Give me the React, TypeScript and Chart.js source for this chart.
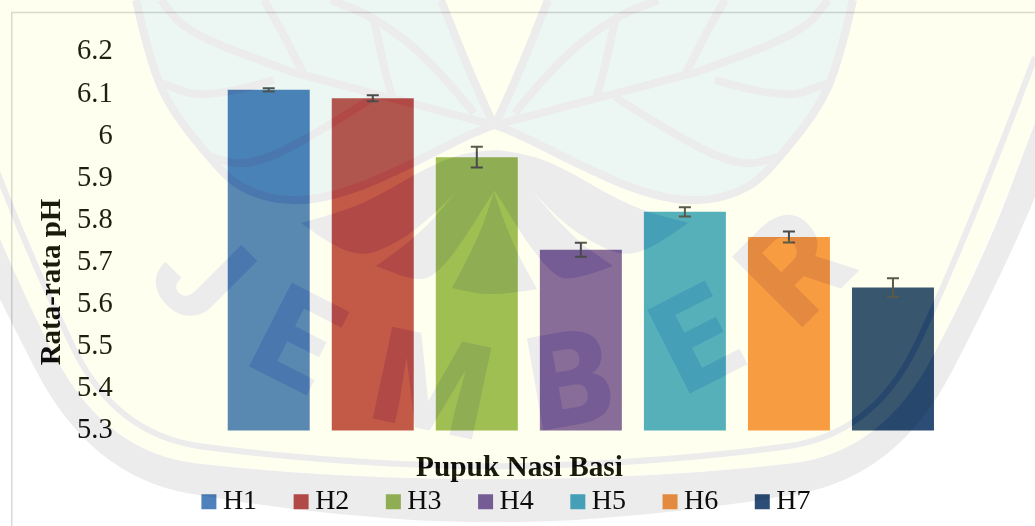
import React, { useEffect, useRef } from "react";
import { Chart, registerables } from "chart.js";

Chart.register(...registerables);

const seriesNames = ["H1", "H2", "H3", "H4", "H5", "H6", "H7"];
const seriesValues = [6.11, 6.09, 5.95, 5.73, 5.82, 5.76, 5.64];
const seriesErrors = [0.004, 0.007, 0.0245, 0.0167, 0.011, 0.013, 0.022];
const seriesColors = ["#4F81BD", "#C0504D", "#9BBB59", "#8064A2", "#4BACC6", "#F79646", "#2C4D75"];
const xCaption = "Pupuk Nasi Basi";
const yCaption = "Rata-rata pH";
const SERIF = '"Liberation Serif", "Times New Roman", serif';

type P = [number, number];
const MIRROR = 989;
const mirror = (pts: P[]): P[] => pts.map(([x, y]) => [MIRROR - x, y] as P);

function trace(ctx: CanvasRenderingContext2D, pts: P[], move = true) {
  if (move) ctx.moveTo(pts[0][0], pts[0][1]);
  else ctx.lineTo(pts[0][0], pts[0][1]);
  for (let i = 1; i < pts.length - 1; i++) {
    const mx = (pts[i][0] + pts[i + 1][0]) / 2;
    const my = (pts[i][1] + pts[i + 1][1]) / 2;
    ctx.quadraticCurveTo(pts[i][0], pts[i][1], mx, my);
  }
  const last = pts[pts.length - 1];
  ctx.lineTo(last[0], last[1]);
}

const lowerSegments: P[][] = [
  [[494, 150], [527, 153], [567, 170], [600, 190], [640, 210], [688, 223]],
  [[688, 223], [660, 243], [633, 255], [610, 252], [567, 227], [532, 191]],
  [[532, 191], [571, 237], [613, 266]],
  [[613, 266], [571, 282], [551, 273], [525, 240], [502, 202]],
  [[502, 202], [494, 190]],
];
const centerSegments: P[][] = [
  [[494, 192], [510, 240], [537, 289]],
  [[537, 289], [494, 297], [452, 288]],
  [[452, 288], [478, 240], [494, 192]],
];
const leafEdge: P[] = [[495, 125], [515, 132], [575, 163], [642, 193], [698, 203], [748, 190], [778, 160], [825, 100], [843, 43], [853, 0]];
const veins: P[][] = [
  [[495, 125], [603, 97], [685, 75], [695, 73], [802, 33], [828, 0]],
  [[515, 113], [558, 60], [615, 17], [658, 0]],
  [[597, 97], [605, 67], [615, 20]],
  [[685, 75], [705, 35], [725, 0]],
  [[615, 97], [682, 140], [742, 167], [778, 157]],
  [[715, 80], [782, 100], [828, 83]],
  [[495, 125], [515, 83], [548, 0]],
];
const shieldOuter: P[] = [[1035, 197], [1008, 263], [898, 476], [700, 511], [494, 526], [288, 511], [90, 476], [-19, 263], [-46, 197]];
const shieldInner: P[] = [[1035, 123], [982, 263], [882, 453], [700, 474], [494, 481], [288, 474], [106, 453], [6, 263], [-46, 123]];
const shieldThin: P[] = [[1035, 57], [957, 263], [872, 435], [700, 458], [494, 469], [288, 458], [116, 435], [32, 263], [-47, 57]];
const letters: [string, number, number, number, number][] = [
  ["J", 203, 273, 45, 132],
  ["E", 297, 338, 27, 132],
  ["M", 432, 383, 12, 132],
  ["B", 570, 378, -10, 132],
  ["E", 695, 338, -27, 132],
  ["R", 796, 267, -45, 140],
];

function buildWatermark(w: number, h: number) {
  const mask = document.createElement("canvas");
  mask.width = w;
  mask.height = h;
  const m = mask.getContext("2d")!;
  m.fillStyle = "#000";
  m.strokeStyle = "#000";
  m.lineJoin = "round";
  m.beginPath();
  trace(m, shieldOuter);
  trace(m, [...shieldInner].reverse(), false);
  m.closePath();
  m.fill();
  m.lineWidth = 6;
  m.beginPath();
  trace(m, shieldThin);
  m.stroke();
  m.beginPath();
  lowerSegments.forEach((s, i) => trace(m, s, i === 0));
  [...lowerSegments].reverse().forEach((s) => trace(m, mirror([...s].reverse()), false));
  m.closePath();
  m.fill();
  m.beginPath();
  centerSegments.forEach((s, i) => trace(m, s, i === 0));
  m.closePath();
  m.fill();
  m.lineWidth = 8;
  [leafEdge, ...veins].forEach((v) => {
    [v, mirror(v)].forEach((line) => {
      m.beginPath();
      trace(m, line);
      m.stroke();
    });
  });
  m.textAlign = "center";
  m.textBaseline = "alphabetic";
  letters.forEach(([t, x, y, deg, size]) => {
    m.font = `900 ${size}px Roboto, sans-serif`;
    m.save();
    m.translate(x, y);
    m.rotate((deg * Math.PI) / 180);
    m.fillText(t, 0, 47);
    m.restore();
  });

  const over = document.createElement("canvas");
  over.width = w;
  over.height = h;
  const o = over.getContext("2d")!;
  o.fillStyle = "rgba(255,255,0,0.06)";
  o.beginPath();
  o.moveTo(-46, 0);
  o.lineTo(1035, 0);
  trace(o, shieldInner, false);
  o.closePath();
  o.fill();
  const leafPath = (line: P[]) => {
    o.beginPath();
    trace(o, line);
    o.lineTo(line[line.length - 1][0] > 494 ? 548 : MIRROR - 548, 0);
    o.lineTo(line[0][0], line[0][1]);
    o.closePath();
  };
  o.globalCompositeOperation = "destination-out";
  [leafEdge, mirror(leafEdge)].forEach((line) => {
    o.fillStyle = "#000";
    leafPath(line);
    o.fill();
  });
  o.globalCompositeOperation = "source-over";
  [leafEdge, mirror(leafEdge)].forEach((line) => {
    o.fillStyle = "rgba(0,150,110,0.075)";
    leafPath(line);
    o.fill();
  });
  o.globalCompositeOperation = "destination-out";
  o.drawImage(mask, 0, 0);
  o.globalCompositeOperation = "source-over";
  o.globalAlpha = 0.075;
  o.drawImage(mask, 0, 0);
  o.globalAlpha = 1;
  return over;
}

export default function App() {
  const ref = useRef<HTMLCanvasElement>(null);
  useEffect(() => {
    const canvas = ref.current!;
    const watermark = buildWatermark(1035, 526);

    const pagePlugin = {
      id: "page",
      beforeDraw(chart: any) {
        const { ctx, width, height } = chart;
        ctx.save();
        ctx.fillStyle = "#ffffff";
        ctx.fillRect(0, 0, width, height);
        ctx.strokeStyle = "#d9d9d9";
        ctx.lineWidth = 1.5;
        ctx.beginPath();
        ctx.moveTo(11.75, height + 2);
        ctx.lineTo(11.75, 12.5);
        ctx.lineTo(width + 2, 12.5);
        ctx.stroke();
        ctx.restore();
      },
      afterDraw(chart: any) {
        chart.ctx.drawImage(watermark, 0, 0);
      },
    };

    const placePlugin = {
      id: "place",
      afterLayout(chart: any) {
        const legend = chart.legend;
        legend.left = 70.7;
        legend.right = 948.7;
        legend.top = 443.7;
        legend.bottom = 526;
        const title = chart.titleBlock;
        title.left = 400;
        title.right = 639;
        title.top = 450.6;
        title.bottom = 490;
        const block = chart.boxes.find((b: any) => b !== title && b.options && b.options.text === yCaption);
        if (block) {
          block.left = 38;
          block.right = 67;
          block.top = 198;
          block.bottom = 366;
        }
      },
    };

    const errorBarPlugin = {
      id: "errorBars",
      afterDatasetsDraw(chart: any) {
        const { ctx } = chart;
        const y = chart.scales.y;
        ctx.save();
        ctx.strokeStyle = "#505050";
        ctx.lineWidth = 2;
        seriesErrors.forEach((err, i) => {
          const bar = chart.getDatasetMeta(i).data[0];
          const hi = y.getPixelForValue(seriesValues[i] + err);
          const lo = y.getPixelForValue(seriesValues[i] - err);
          ctx.beginPath();
          ctx.moveTo(bar.x, hi);
          ctx.lineTo(bar.x, lo);
          ctx.moveTo(bar.x - 6, hi);
          ctx.lineTo(bar.x + 6, hi);
          ctx.moveTo(bar.x - 6, lo);
          ctx.lineTo(bar.x + 6, lo);
          ctx.stroke();
        });
        ctx.restore();
      },
    };

    const chart = new Chart(canvas, {
      type: "bar",
      data: {
        labels: [""],
        datasets: seriesNames.map((name, i) => ({
          label: name,
          data: [seriesValues[i]],
          backgroundColor: seriesColors[i],
          borderWidth: 0,
          pointStyle: "rect",
          categoryPercentage: 1,
          barPercentage: 0.788,
        })),
      },
      options: {
        animation: false,
        responsive: false,
        devicePixelRatio: 1,
        layout: { padding: { left: 0, right: 90, top: 52, bottom: -29.75 } },
        scales: {
          x: {
            grid: { display: false },
            border: { display: false },
            ticks: { display: false },
          },
          y: {
            min: 5.3,
            max: 6.2,
            grid: { drawOnChartArea: false, drawTicks: true, tickLength: 104, tickColor: "rgba(0,0,0,0)" },
            border: { display: false },
            afterFit(scale: any) {
              scale.width = 187.7;
            },
            ticks: {
              stepSize: 0.1,
              padding: 0,
              color: "#111111",
              font: { family: SERIF, size: 28.5 },
              callback: (v: any) => String(Number(Number(v).toFixed(1))),
            },
          },
        },
        plugins: {
          tooltip: { enabled: false },
          title: {
            display: true,
            position: "bottom",
            text: xCaption,
            color: "#0d0d0d",
            padding: 0,
            font: { family: SERIF, size: 29.3, weight: "bold" },
          },
          subtitle: {
            display: true,
            position: "left",
            text: yCaption,
            color: "#0d0d0d",
            padding: 0,
            font: { family: SERIF, size: 29, weight: "bold", lineHeight: 1 },
          },
          legend: {
            position: "bottom",
            labels: {
              usePointStyle: true,
              pointStyle: "rect",
              boxWidth: 0.01,
              boxHeight: 15,
              padding: 44,
              color: "#0d0d0d",
              font: { family: SERIF, size: 28 },
            },
          },
        },
      },
      plugins: [pagePlugin, placePlugin, errorBarPlugin],
    } as any);
    return () => chart.destroy();
  }, []);
  return (
    <div style={{ position: "fixed", left: 0, top: 0 }}>
      <canvas ref={ref} width={1035} height={526} style={{ display: "block" }} />
    </div>
  );
}
